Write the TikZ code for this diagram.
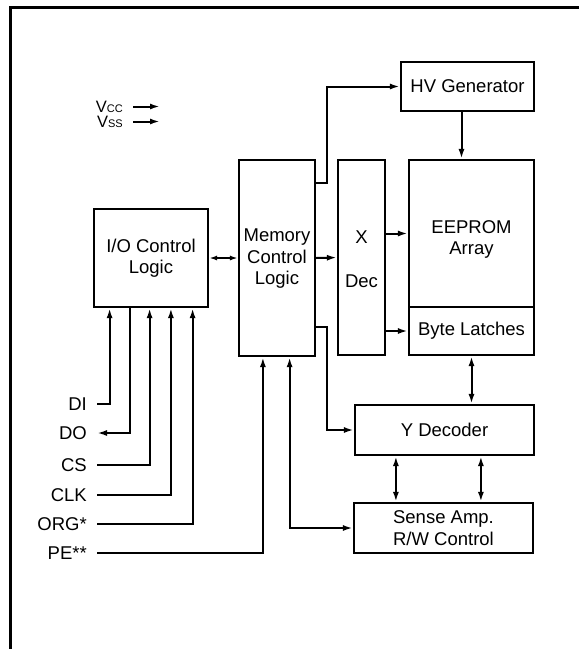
\documentclass[tikz,border=0pt]{standalone}
\usepackage{fontspec}
\setmainfont{Liberation Sans}
\usetikzlibrary{arrows.meta,calc}
\newcommand\blkfont{\fontsize{18.5}{21.5}\selectfont}
\newcommand\pinfont{\fontsize{16.5}{15}\selectfont}
\newcommand\subfont{\fontsize{11}{12}\selectfont}
\tikzset{%
  >={Latex[length=10pt,width=6pt]}, % option for arrow tips
  blk/.style={draw,line width=2.2pt,inner sep=2pt,align=center,font=\blkfont},%
  sig/.style={inner sep=0pt,inner xsep=10pt,font=\blkfont},%
  wire/.style={line width=2pt},%
  shortarr/.style={wire,{Latex[length=8pt,width=5pt]}-{Latex[length=8pt,width=5pt]}}%
}

\begin{document}
\begin{tikzpicture}[x=1pt,y=-1pt] % block diagram
\useasboundingbox (0,0) rectangle (579,649);
\draw[line width=3pt] (10.3,660) -- (10.3,7.7) -- (590,7.7); % frame

% blocks
\node[blk,minimum width=114,minimum height=98] (io) at (151,258) {I/O Control\\Logic};
\node[blk,minimum width=76,minimum height=196] (mem) at (277,258) {\\[-7pt]Memory\\Control\\Logic};
\node[blk,minimum width=47,minimum height=195] (xdec) at (361.5,257.5) {\\[-5pt]X\\[22pt]Dec};
\node[blk,minimum width=125,minimum height=147] (eep) at (471.5,233.5) {};
\node[font=\blkfont,align=center] (eeptxt) at ([yshift=-6pt]eep.center) {EEPROM\\Array};
\node[blk,minimum width=125,minimum height=48] (latch) at (471.5,331) {Byte Latches};
\node[blk,minimum width=133,minimum height=49] (hv) at (467.5,86.5) {HV Generator};
\node[blk,minimum width=179,minimum height=50] (ydec) at (444.5,430) {Y Decoder};
\node[blk,minimum width=179,minimum height=50] (sense) at (443.5,528) {Sense Amp.\\R/W Control};

% supply pins
\node[sig,font=\pinfont,align=right,anchor=east] (supply) at (133,114) {V{\subfont CC}\\V{\subfont SS}};
\coordinate (vccend) at (160,106.5);
\coordinate (vssend) at (160,121.5);
\draw[wire,->] ([yshift=7.5pt]supply.east) -- (vccend);
\draw[wire,->] ([yshift=-7.5pt]supply.east) -- (vssend);

% signal pins
\foreach \n/\t/\y in {di/DI/404,dout/DO/433,cs/CS/465,clk/CLK/495,org/ORG*/524,pe/PE**/553}
  \node[sig,anchor=east] (\n) at (97,\y) {\t};

\draw[wire,->] (di.east) -| ([xshift=16.7pt]io.south west);
\draw[wire,->] ([xshift=37pt]io.south west) |- (dout.east);
\draw[wire,->] (cs.east) -| ([xshift=56.7pt]io.south west);
\draw[wire,->] (clk.east) -| ([xshift=78pt]io.south west);
\draw[wire,->] (org.east) -| ([xshift=99.7pt]io.south west);
\draw[wire,->] (pe.east) -| ([xshift=25pt]mem.south west);
\draw[wire,<->] ([xshift=51.7pt]mem.south west) |- (sense.west);

% internal paths
\draw[shortarr] (io) -- (mem);
\draw[wire,->] (mem.east) -- (xdec.west);
\draw[wire,->] ([yshift=-24pt]mem.north east) -- ++(11,0) |- (hv.west);
\draw[wire,->] ([yshift=30pt]mem.south east) -- ++(11,0) |- (ydec.west);
\draw[wire,->] ([xshift=-6pt]hv.south) -- ([xshift=-6pt]hv.south |- eep.north);
\draw[wire,->] (xdec.east |- eep.west) -- (eep.west);
\draw[wire,->] (xdec.east |- latch.west) -- (latch.west);
\draw[wire,<->] (latch.south) -- (latch.south |- ydec.north);
\draw[wire,<->] ([xshift=42pt]ydec.south west) -- ([xshift=42pt]ydec.south west |- sense.north);
\draw[wire,<->] ([xshift=127pt]ydec.south west) -- ([xshift=127pt]ydec.south west |- sense.north);

\end{tikzpicture}
\end{document}
